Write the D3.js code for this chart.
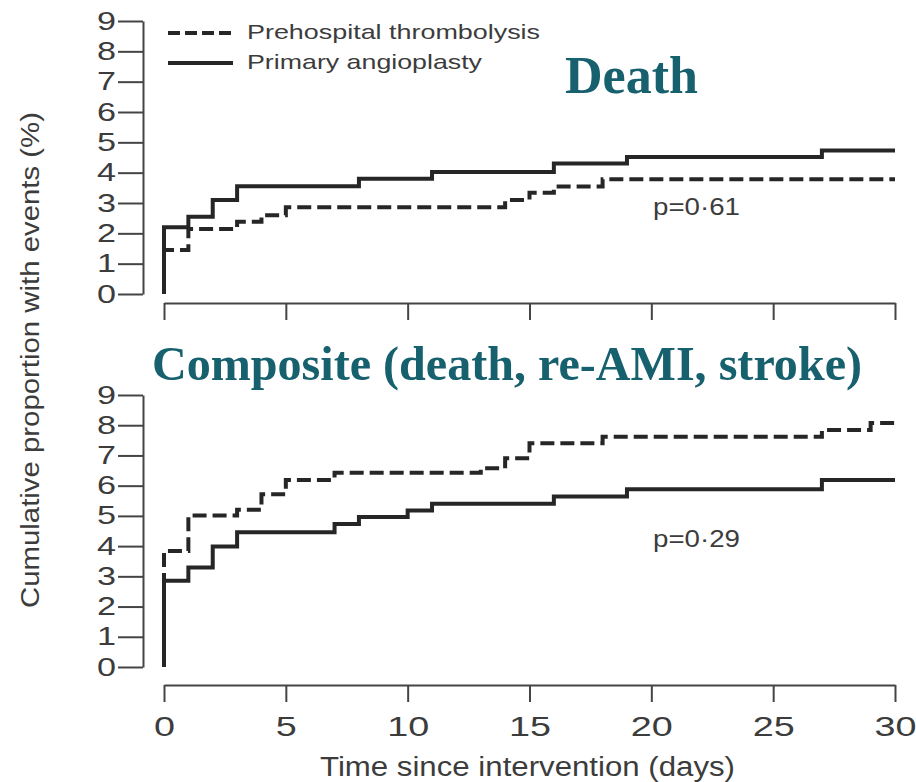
<!DOCTYPE html>
<html>
<head>
<meta charset="utf-8">
<script src="https://cdn.jsdelivr.net/npm/d3@7"></script>
<style>
  body { margin: 0; background: #fff; }
  svg { display: block; }
  .axis path, .axis line { stroke: #444; stroke-width: 2; }
  .axis text { font-family: "Liberation Sans", Arial, sans-serif; fill: #3c3c3c; }
</style>
</head>
<body>
<div id="chart"></div>
<script>
// step data (days, cumulative % with events)
const deathAngioDays = [0, 0, 1, 2, 3, 8, 11, 16, 19, 27, 30];
const deathAngioVals = [0, 2.2, 2.55, 3.1, 3.55, 3.8, 4.02, 4.3, 4.52, 4.73, 4.73];
const deathThrombDays = [0, 0, 1, 3, 4, 5, 14, 15, 16, 18, 30];
const deathThrombVals = [0, 1.45, 2.14, 2.38, 2.6, 2.86, 3.1, 3.34, 3.54, 3.78, 3.78];

const compAngioDays = [0, 0, 1, 2, 3, 7, 8, 10, 11, 16, 19, 27, 30];
const compAngioVals = [0, 2.85, 3.29, 3.99, 4.46, 4.73, 4.96, 5.18, 5.4, 5.64, 5.88, 6.19, 6.19];
const compThrombDays = [0, 0, 1, 3, 4, 5, 7, 13, 14, 15, 18, 27, 29, 30];
const compThrombVals = [0, 3.84, 5.01, 5.2, 5.72, 6.19, 6.43, 6.58, 6.91, 7.4, 7.62, 7.84, 8.07, 8.07];

const yTicks = [0, 1, 2, 3, 4, 5, 6, 7, 8, 9];
const xTicks = [0, 5, 10, 15, 20, 25, 30];
const seriesNames = ["Prehospital thrombolysis", "Primary angioplasty"];
const pValues = ["p=0\u00b761", "p=0\u00b729"];
const panelTitles = ["Death", "Composite (death, re-AMI, stroke)"];

const W = 916, H = 782;
const lineCol = "#262626", teal = "#17606e";
const dash = "14,6";

const svg = d3.select("#chart").append("svg").attr("width", W).attr("height", H);

// shared time scale, one y scale per panel
const x = d3.scaleLinear().domain([0, 30]).range([164, 895]);
const yTop = d3.scaleLinear().domain([0, 9]).range([294, 21]);
const yBot = d3.scaleLinear().domain([0, 9]).range([667, 395]);

// original picture is stretched sideways, so widen digits a bit
function widen(sel, perChar) {
  sel.selectAll("text")
    .attr("textLength", function() { return this.textContent.length * perChar; })
    .attr("lengthAdjust", "spacingAndGlyphs");
}

function yAxis(scale) {
  const g = svg.append("g").attr("class", "axis").attr("transform", "translate(143,0)")
    .call(d3.axisLeft(scale).tickValues(yTicks).tickSize(25).tickSizeOuter(0).tickPadding(2));
  g.selectAll("text").style("font-size", "25px");
  widen(g, 19);
}
yAxis(yTop);
yAxis(yBot);

// top x axis has ticks but no labels
svg.append("g").attr("class", "axis").attr("transform", "translate(0,303)")
  .call(d3.axisBottom(x).tickValues(xTicks).tickSize(17).tickSizeOuter(0).tickFormat(""));

const gxb = svg.append("g").attr("class", "axis").attr("transform", "translate(0,685)")
  .call(d3.axisBottom(x).tickValues(xTicks).tickSize(17).tickSizeOuter(0).tickPadding(15));
gxb.selectAll("text").style("font-size", "27px");
widen(gxb, 21);

const line = (ys) => d3.line().x(d => x(d[0])).y(d => ys(d[1])).curve(d3.curveStepAfter);

function drawCurve(days, vals, ys, dashed) {
  svg.append("path")
    .datum(d3.zip(days, vals))
    .attr("d", line(ys))
    .attr("fill", "none")
    .attr("stroke", lineCol)
    .attr("stroke-width", 4)
    .attr("stroke-dasharray", dashed ? dash : null);
}
// dashed first so the solid one sits on top at day 0
drawCurve(deathThrombDays, deathThrombVals, yTop, true);
drawCurve(deathAngioDays, deathAngioVals, yTop, false);
drawCurve(compThrombDays, compThrombVals, yBot, true);
drawCurve(compAngioDays, compAngioVals, yBot, false);

// legend
const sans = "'Liberation Sans', Arial, sans-serif";
[[33, true], [63, false]].forEach(([ly, dashed], i) => {
  svg.append("line").attr("x1", 168).attr("x2", 233).attr("y1", ly).attr("y2", ly)
    .attr("stroke", lineCol).attr("stroke-width", 4)
    .attr("stroke-dasharray", dashed ? "12,5" : null);
  svg.append("text").attr("x", 247).attr("y", ly + 6)
    .attr("font-family", sans).attr("font-size", 21).attr("fill", "#3c3c3c")
    .attr("textLength", i === 0 ? 293 : 235).attr("lengthAdjust", "spacingAndGlyphs")
    .text(seriesNames[i]);
});

// p-values
[[yTop, 215], [yBot, 547]].forEach(([ys, by], i) => {
  svg.append("text").attr("x", 653).attr("y", by)
    .attr("font-family", sans).attr("font-size", 24).attr("fill", "#3c3c3c")
    .attr("textLength", 87).attr("lengthAdjust", "spacingAndGlyphs")
    .text(pValues[i]);
});

// axis titles
svg.append("text")
  .attr("transform", "translate(39,360) rotate(-90)")
  .attr("text-anchor", "middle")
  .attr("font-family", sans).attr("font-size", 25).attr("fill", "#3c3c3c")
  .attr("textLength", 496).attr("lengthAdjust", "spacingAndGlyphs")
  .text("Cumulative proportion with events (%)");

svg.append("text")
  .attr("x", 320).attr("y", 776)
  .attr("font-family", sans).attr("font-size", 27).attr("fill", "#3c3c3c")
  .attr("textLength", 415).attr("lengthAdjust", "spacingAndGlyphs")
  .text("Time since intervention (days)");

// big teal panel titles
const serif = "'Liberation Serif', 'Times New Roman', serif";
svg.append("text").attr("x", 565).attr("y", 93)
  .attr("font-family", serif).attr("font-weight", "bold").attr("font-size", 52)
  .attr("fill", teal).attr("textLength", 133).attr("lengthAdjust", "spacingAndGlyphs")
  .text(panelTitles[0]);
svg.append("text").attr("x", 152).attr("y", 380)
  .attr("font-family", serif).attr("font-weight", "bold").attr("font-size", 48)
  .attr("fill", teal).attr("textLength", 710).attr("lengthAdjust", "spacingAndGlyphs")
  .text(panelTitles[1]);
</script>
</body>
</html>
